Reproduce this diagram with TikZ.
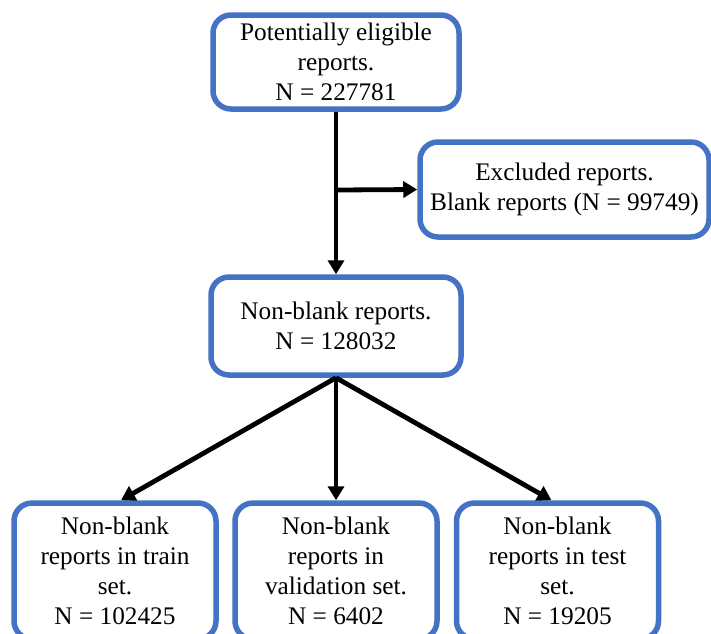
\documentclass[tikz,border=0pt]{standalone}
\usepackage{fontspec}
\setmainfont{Liberation Serif}
\usetikzlibrary{arrows.meta}
\definecolor{boxblue}{HTML}{4472C4}
\begin{document}
\begin{tikzpicture}[x=1pt,y=-1pt,
  box/.style={draw=boxblue, line width=5.5pt, rounded corners=18pt, fill=white,
    align=center, inner sep=0pt, font=\fontsize{25.3}{30}\selectfont},
  arr/.style={line width=4.8pt, -{Triangle[length=14pt,width=16pt]}}]
\useasboundingbox (0,0) rectangle (711,633);
\clip (0,0) rectangle (711,633);
\node[box, minimum width=246pt, minimum height=94pt] (top) at (336,62)
  {Potentially eligible\\reports.\\N = 227781};
\node[box, minimum width=289pt, minimum height=95pt] (excl) at (564.5,189.5)
  {Excluded reports.\\Blank reports (N = 99749)};
\node[box, minimum width=250pt, minimum height=98pt] (mid) at (336,326)
  {Non-blank reports.\\N = 128032};
\node[box, minimum width=202pt, minimum height=136pt] (b1) at (115,571)
  {Non-blank\\reports in train\\set.\\N = 102425};
\node[box, minimum width=202pt, minimum height=136pt] (b2) at (336,571)
  {Non-blank\\reports in\\validation set.\\N = 6402};
\node[box, minimum width=202pt, minimum height=136pt] (b3) at (557.5,571)
  {Non-blank\\reports in test\\set.\\N = 19205};
\coordinate (j) at (336,190);
\draw[arr] (top.south) -- (mid.north);
\draw[arr] (j) -- (excl.west);
\draw[arr] (mid.south) -- ([xshift=6pt]b1.north);
\draw[arr] (mid.south) -- (b2.north);
\draw[arr] (mid.south) -- ([xshift=-6pt]b3.north);
\end{tikzpicture}
\end{document}
